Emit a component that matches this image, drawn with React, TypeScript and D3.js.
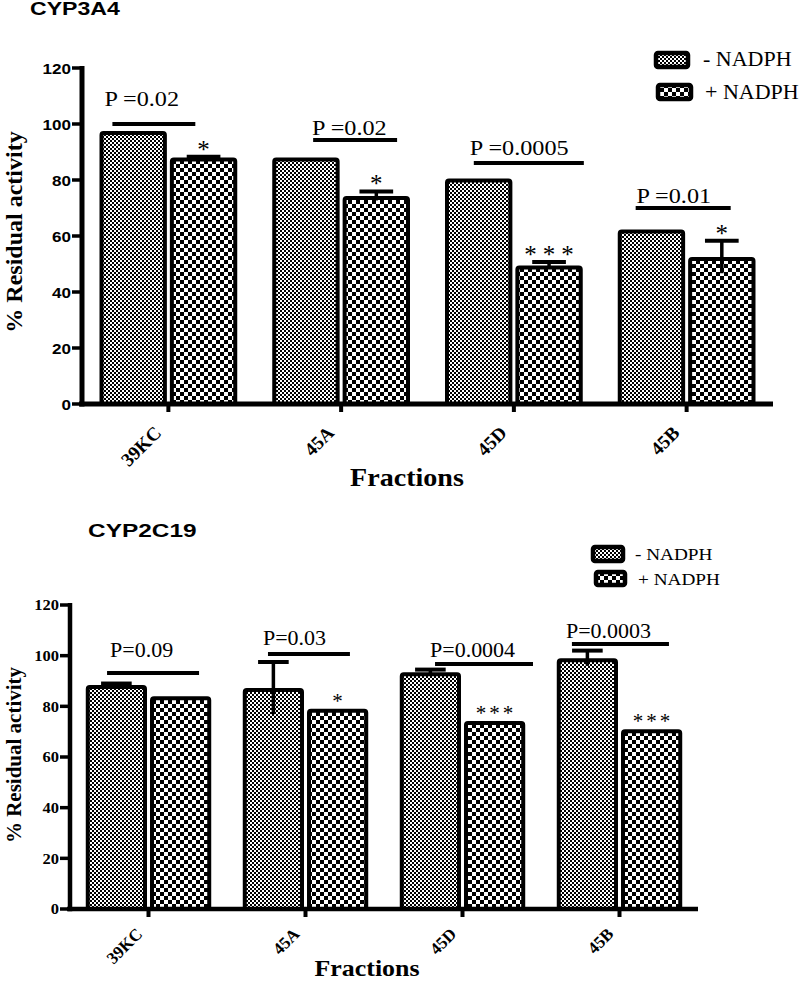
import React from "react";
import * as d3 from "d3";

// ---------- DATA ----------
const categories = ["39KC", "45A", "45D", "45B"];
const seriesNames = ["- NADPH", "+ NADPH"];
const yTicks = [0, 20, 40, 60, 80, 100, 120];

// CYP3A4
const cyp3a4Minus = [97.5, 88, 80.5, 62.3];
const cyp3a4MinusErr = [0, 0, 0, 0];
const cyp3a4Plus = [88, 74.3, 49.5, 52.5];
const cyp3a4PlusErr = [0.3, 1.6, 1.2, 5.8];
const cyp3a4PLabels = ["P =0.02", "P =0.02", "P =0.0005", "P =0.01"];
const cyp3a4PLineLevel = [100, 94.3, 86.1, 70];
const cyp3a4PTextLevel = [106.4, 96.1, 88.9, 71.8];
const cyp3a4Stars = ["*", "*", "***", "*"];

// CYP2C19
const cyp2c19Minus = [88.4, 87.2, 93.5, 99];
const cyp2c19MinusErr = [0.6, 10.3, 1, 3];
const cyp2c19Plus = [84, 79, 74.2, 71];
const cyp2c19PlusErr = [0, 0, 0, 0];
const cyp2c19PLabels = ["P=0.09", "P=0.03", "P=0.0004", "P=0.0003"];
const cyp2c19PLineLevel = [93.2, 100.7, 96.7, 104.6];
const cyp2c19PTextLevel = [99.5, 104.2, 99.5, 106.8];
const cyp2c19Stars = ["", "*", "***", "***"];

const SERIF = "'Liberation Serif', 'Times New Roman', serif";
const SANS = "'Liberation Sans', Arial, sans-serif";

type Layout = {
  title: string;
  titleX: number;
  titleY: number;
  titleSize: number;
  x0: number;
  x1: number;
  yBottom: number;
  yTop: number;
  axisW: number;
  tickFont: string;
  tickSize: number;
  tickWeight: number;
  ylabelX: number;
  ylabelY: number;
  ylabelSize: number;
  xlabelX: number;
  xlabelY: number;
  xlabelSize: number;
  catSize: number;
  catDx: number;
  catDy: number;
  pSize: number;
  pLine: [number, number][];
  pTextDx: number[];
  starSize: number;
  starSpacing: number;
  starDy: number;
  legend: { sx: number; sy: number; sw: number; sh: number; tx: number; ty: number }[];
  legendSize: number;
  minus: number[];
  minusErr: number[];
  plus: number[];
  plusErr: number[];
  pLabels: string[];
  pLineLevel: number[];
  pTextLevel: number[];
  stars: string[];
};

const SX = 1.1;

function Chart({ L }: { L: Layout }) {
  const x = d3.scalePoint<string>().domain(categories).range([L.x0, L.x1]).padding(0.5);
  const step = x.step();
  const y = d3.scaleLinear().domain([0, 120]).range([L.yBottom, L.yTop]);
  const barW = step * 0.39;
  const gap = 3;
  const sw = 4;
  const bars: { x0: number; x1: number; v: number; e: number; fill: string }[] = [];
  categories.forEach((c, i) => {
    const cx = x(c)!;
    bars.push({ x0: cx - gap / 2 - barW, x1: cx - gap / 2, v: L.minus[i], e: L.minusErr[i], fill: "url(#fine)" });
    bars.push({ x0: cx + gap / 2, x1: cx + gap / 2 + barW, v: L.plus[i], e: L.plusErr[i], fill: "url(#coarse)" });
  });
  return (
    <g>
      <text
        transform={`translate(${L.titleX},${L.titleY}) scale(1.32,1)`}
        fontFamily={SANS}
        fontWeight={700}
        fontSize={L.titleSize}
      >
        {L.title}
      </text>
      {/* bars */}
      {bars.map((b, i) => (
        <rect
          key={"b" + i}
          x={b.x0 + sw / 2}
          y={y(b.v) + sw / 2}
          width={b.x1 - b.x0 - sw}
          height={y(0) - y(b.v) - sw / 2}
          fill={b.fill}
          stroke="#000"
          strokeWidth={sw}
          rx={2}
        />
      ))}
      {/* error bars */}
      {bars.map((b, i) =>
        b.e > 0 ? (
          <g key={"e" + i}>
            <line
              x1={(b.x0 + b.x1) / 2}
              x2={(b.x0 + b.x1) / 2}
              y1={y(b.v - b.e)}
              y2={y(b.v + b.e)}
              stroke="#000"
              strokeWidth={3.5}
            />
            <line
              x1={(b.x0 + b.x1) / 2 - barW * 0.25}
              x2={(b.x0 + b.x1) / 2 + barW * 0.25}
              y1={y(b.v + b.e)}
              y2={y(b.v + b.e)}
              stroke="#000"
              strokeWidth={4}
            />
          </g>
        ) : null
      )}
      {/* axes */}
      <line x1={L.x0} x2={L.x0} y1={L.yTop - 2} y2={L.yBottom + L.axisW / 2} stroke="#000" strokeWidth={L.axisW} />
      <line x1={L.x0 - 3} x2={L.x1} y1={L.yBottom} y2={L.yBottom} stroke="#000" strokeWidth={L.axisW} />
      {yTicks.map((t) => (
        <g key={"yt" + t}>
          <line x1={L.x0 - 10} x2={L.x0} y1={y(t)} y2={y(t)} stroke="#000" strokeWidth={3.5} />
          <text
            transform={`translate(${L.x0 - 11},${y(t)}) scale(${SX},1)`}
            textAnchor="end"
            dominantBaseline="central"
            fontFamily={L.tickFont}
            fontWeight={L.tickWeight}
            fontSize={L.tickSize}
          >
            {t}
          </text>
        </g>
      ))}
      {categories.map((c) => (
        <g key={"xt" + c}>
          <line x1={x(c)!} x2={x(c)!} y1={L.yBottom} y2={L.yBottom + 8} stroke="#000" strokeWidth={4} />
          <text
            transform={`translate(${x(c)! + L.catDx},${L.yBottom + L.catDy}) rotate(-45)`}
            textAnchor="end"
            fontFamily={SERIF}
            fontWeight={700}
            fontSize={L.catSize}
          >
            {c}
          </text>
        </g>
      ))}
      {/* axis titles */}
      <text
        transform={`translate(${L.ylabelX},${L.ylabelY}) rotate(-90)`}
        textAnchor="middle"
        dominantBaseline="central"
        fontFamily={SERIF}
        fontWeight={700}
        fontSize={L.ylabelSize}
      >
        % Residual activity
      </text>
      <text
        transform={`translate(${L.xlabelX},${L.xlabelY}) scale(1.08,1)`}
        textAnchor="middle"
        fontFamily={SERIF}
        fontWeight={700}
        fontSize={L.xlabelSize}
      >
        Fractions
      </text>
      {/* P annotations */}
      {categories.map((c, i) => {
        const cx = x(c)!;
        return (
          <g key={"p" + c}>
            <line
              x1={cx + L.pLine[i][0] * step}
              x2={cx + L.pLine[i][1] * step}
              y1={y(L.pLineLevel[i])}
              y2={y(L.pLineLevel[i])}
              stroke="#000"
              strokeWidth={4}
            />
            <text
              transform={`translate(${cx + L.pTextDx[i] * step},${y(L.pTextLevel[i])}) scale(${SX},1)`}
              fontFamily={SERIF}
              fontSize={L.pSize}
            >
              {L.pLabels[i]}
            </text>
          </g>
        );
      })}
      {/* stars */}
      {categories.map((c, i) => {
        const b = bars[i * 2 + 1];
        const cx = (b.x0 + b.x1) / 2;
        return L.stars[i] ? (
          <text
            key={"s" + c}
            x={cx + (L.stars[i].length > 1 ? L.starSpacing / 2 : 0)}
            y={y(b.v + b.e) + L.starDy}
            textAnchor="middle"
            fontFamily={SERIF}
            fontSize={L.starSize}
            letterSpacing={L.stars[i].length > 1 ? L.starSpacing : 0}
          >
            {L.stars[i]}
          </text>
        ) : null;
      })}
      {/* legend */}
      {seriesNames.map((s, i) => {
        const g = L.legend[i];
        return (
          <g key={"l" + s}>
            <rect
              x={g.sx}
              y={g.sy}
              width={g.sw}
              height={g.sh}
              fill={i === 0 ? "url(#fine)" : "url(#coarse)"}
              stroke="#000"
              strokeWidth={4.5}
              rx={2}
            />
            <text
              transform={`translate(${g.tx},${g.ty}) scale(${SX},1)`}
              fontFamily={SERIF}
              fontSize={L.legendSize}
            >
              {s}
            </text>
          </g>
        );
      })}
    </g>
  );
}

const topLayout: Layout = {
  title: "CYP3A4",
  titleX: 30,
  titleY: 15,
  titleSize: 17.5,
  x0: 82,
  x1: 773,
  yBottom: 404,
  yTop: 68,
  axisW: 5,
  tickFont: SANS,
  tickSize: 15.5,
  tickWeight: 700,
  ylabelX: 14,
  ylabelY: 232,
  ylabelSize: 24,
  xlabelX: 407,
  xlabelY: 486,
  xlabelSize: 26,
  catSize: 19,
  catDx: -6,
  catDy: 30,
  pSize: 22,
  pLine: [
    [-0.324, 0.156],
    [-0.162, 0.324],
    [-0.232, 0.405],
    [-0.295, 0.255],
  ],
  pTextDx: [-0.37, -0.168, -0.255, -0.29],
  starSize: 25,
  starSpacing: 6,
  starDy: 1,
  legend: [
    { sx: 656, sy: 53, sw: 32, sh: 14, tx: 703, ty: 66 },
    { sx: 658, sy: 85, sw: 33, sh: 14, tx: 705, ty: 99 },
  ],
  legendSize: 20,
  minus: cyp3a4Minus,
  minusErr: cyp3a4MinusErr,
  plus: cyp3a4Plus,
  plusErr: cyp3a4PlusErr,
  pLabels: cyp3a4PLabels,
  pLineLevel: cyp3a4PLineLevel,
  pTextLevel: cyp3a4PTextLevel,
  stars: cyp3a4Stars,
};

const bottomLayout: Layout = {
  title: "CYP2C19",
  titleX: 88,
  titleY: 537,
  titleSize: 18.5,
  x0: 70,
  x1: 698,
  yBottom: 909,
  yTop: 605,
  axisW: 4.5,
  tickFont: SERIF,
  tickSize: 15,
  tickWeight: 700,
  ylabelX: 14,
  ylabelY: 755,
  ylabelSize: 21,
  xlabelX: 367,
  xlabelY: 976,
  xlabelSize: 24,
  catSize: 17,
  catDx: -5,
  catDy: 26,
  pSize: 20,
  pLine: [
    [-0.264, 0.322],
    [-0.239, 0.283],
    [-0.175, 0.449],
    [-0.303, 0.315],
  ],
  pTextDx: [-0.245, -0.271, -0.207, -0.341],
  starSize: 21,
  starSpacing: 3,
  starDy: -1,
  legend: [
    { sx: 593, sy: 547, sw: 30, sh: 14, tx: 635, ty: 560 },
    { sx: 596, sy: 572, sw: 29, sh: 13, tx: 638, ty: 585 },
  ],
  legendSize: 17.5,
  minus: cyp2c19Minus,
  minusErr: cyp2c19MinusErr,
  plus: cyp2c19Plus,
  plusErr: cyp2c19PlusErr,
  pLabels: cyp2c19PLabels,
  pLineLevel: cyp2c19PLineLevel,
  pTextLevel: cyp2c19PTextLevel,
  stars: cyp2c19Stars,
};

export default function App() {
  return (
    <svg
      width={800}
      height={983}
      viewBox="0 0 800 983"
      style={{ position: "absolute", left: 0, top: 0, background: "#fff" }}
    >
      <defs>
        <pattern id="fine" patternUnits="userSpaceOnUse" width={4} height={4}>
          <rect width={4} height={4} fill="#000" />
          <rect x={0} y={0} width={2} height={2} fill="#fff" />
          <rect x={2} y={2} width={2} height={2} fill="#fff" />
        </pattern>
        <pattern id="coarse" patternUnits="userSpaceOnUse" width={8} height={8}>
          <rect width={8} height={8} fill="#000" />
          <rect x={0} y={0} width={4} height={4} fill="#fff" />
          <rect x={4} y={4} width={4} height={4} fill="#fff" />
        </pattern>
      </defs>
      <rect width={800} height={983} fill="#fff" />
      <Chart L={topLayout} />
      <Chart L={bottomLayout} />
    </svg>
  );
}
